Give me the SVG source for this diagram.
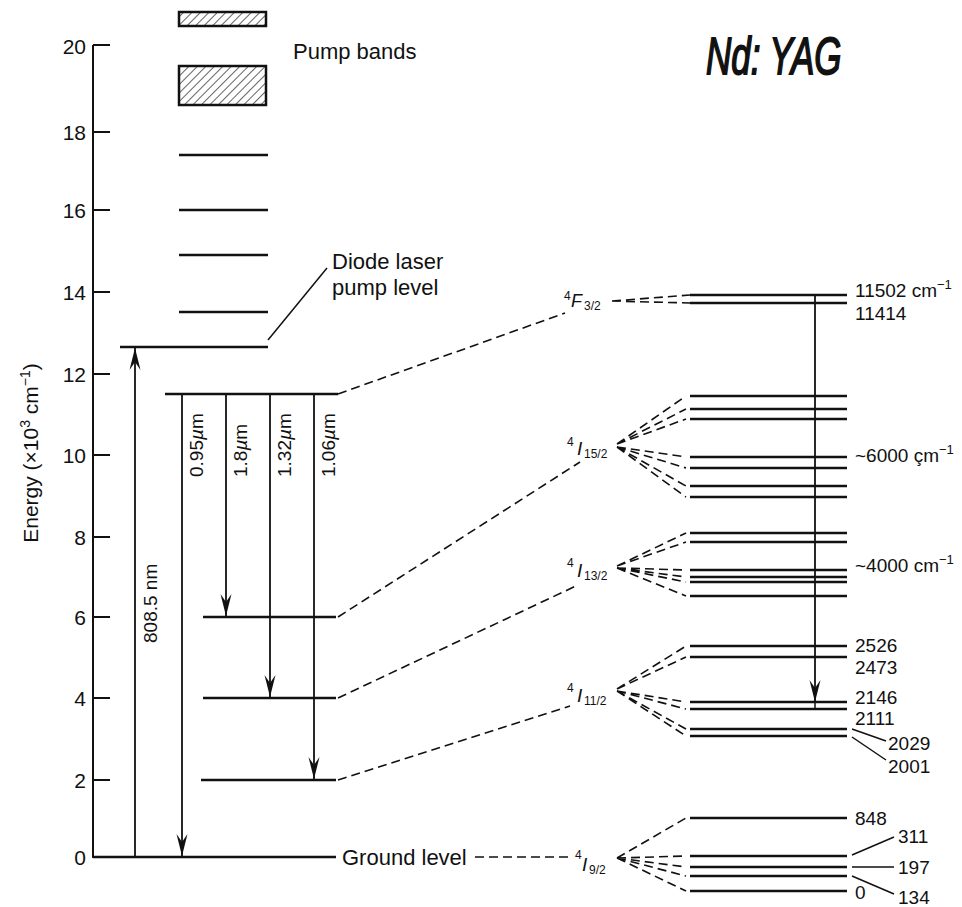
<svg xmlns="http://www.w3.org/2000/svg" width="962" height="907" viewBox="0 0 962 907">
<style>
text{font-family:"Liberation Sans",Arial,sans-serif;fill:#111}
.lvl{stroke:#111;stroke-width:2.4;fill:none}
.ax{stroke:#111;stroke-width:2;fill:none}
.thin{stroke:#111;stroke-width:1.5;fill:none}
.dash{stroke:#111;stroke-width:1.6;stroke-dasharray:9 5;fill:none}
.arr{stroke:#111;stroke-width:1.8;fill:none;marker-end:url(#ah)}
.tk{font-size:21px;text-anchor:end}
.lb{font-size:22px}
.rv{font-size:19px}
.sup{font-size:12px}
.it{font-style:italic}
.tr{font-size:19px}
</style>
<defs>
<marker id="ah" markerUnits="userSpaceOnUse" markerWidth="26" markerHeight="14" refX="0" refY="0" viewBox="-24 -7 26 14" orient="auto">
<path d="M0,0 L-22,-5.5 L-14,0 L-22,5.5 Z" fill="#111"/>
</marker>
<pattern id="hatch" patternUnits="userSpaceOnUse" width="6" height="6" patternTransform="rotate(45)">
<line x1="0" y1="0" x2="0" y2="6" stroke="#111" stroke-width="1.3"/>
</pattern>
</defs>

<g id="axis">
<line class="ax" x1="93" y1="45" x2="93" y2="858"/>
<path class="ax" d="M93,45H110M93,132H110M93,210H110M93,292H110M93,374H110M93,455H110M93,537H110M93,617H110M93,698H110M93,780H110"/>
<text class="tk" x="86" y="54">20</text>
<text class="tk" x="86" y="140">18</text>
<text class="tk" x="86" y="218">16</text>
<text class="tk" x="86" y="300">14</text>
<text class="tk" x="86" y="382">12</text>
<text class="tk" x="86" y="463">10</text>
<text class="tk" x="86" y="545">8</text>
<text class="tk" x="86" y="625">6</text>
<text class="tk" x="86" y="706">4</text>
<text class="tk" x="86" y="788">2</text>
<text class="tk" x="86" y="865">0</text>
<text font-size="21" text-anchor="middle" transform="translate(38,453) rotate(-90)">Energy (×10<tspan font-size="14" dy="-8">3</tspan><tspan dy="8"> cm</tspan><tspan font-size="14" dy="-8">−1</tspan><tspan dy="8">)</tspan></text>
</g>

<g id="title">
<text class="it" font-size="35" stroke="#111" stroke-width="1.2" transform="translate(706,74) scale(1,1.5)">Nd: YAG</text>
</g>

<g id="pump-bands">
<rect x="179" y="12" width="87" height="14" fill="url(#hatch)" stroke="#111" stroke-width="2.5"/>
<rect x="179" y="66" width="87" height="39" fill="url(#hatch)" stroke="#111" stroke-width="2.5"/>
<text class="lb" x="293" y="59">Pump bands</text>
</g>

<g id="upper-levels">
<line class="lvl" x1="179" y1="155" x2="268" y2="155"/>
<line class="lvl" x1="179" y1="210" x2="268" y2="210"/>
<line class="lvl" x1="179" y1="255" x2="268" y2="255"/>
<line class="lvl" x1="179" y1="312" x2="268" y2="312"/>
</g>

<g id="diode-pump-level">
<line class="lvl" x1="120" y1="347" x2="268" y2="347"/>
<line class="thin" x1="268" y1="340" x2="327" y2="268"/>
<text class="lb" x="332" y="269">Diode laser</text>
<text class="lb" x="332" y="295">pump level</text>
</g>

<g id="level-F32">
<line class="lvl" x1="165" y1="394" x2="338" y2="394"/>
</g>
<g id="level-I152"><line class="lvl" x1="203" y1="617" x2="336" y2="617"/></g>
<g id="level-I132"><line class="lvl" x1="203" y1="698" x2="336" y2="698"/></g>
<g id="level-I112"><line class="lvl" x1="201" y1="780" x2="336" y2="780"/></g>
<g id="ground-level">
<line class="lvl" x1="93" y1="857" x2="336" y2="857"/>
<text class="lb" x="342" y="865">Ground level</text>
</g>

<g id="transitions">
<line class="arr" x1="135" y1="857" x2="135" y2="348"/>
<line class="arr" x1="182" y1="394" x2="182" y2="856"/>
<line class="arr" x1="226" y1="394" x2="226" y2="616"/>
<line class="arr" x1="270" y1="394" x2="270" y2="697"/>
<line class="arr" x1="314" y1="394" x2="314" y2="779"/>
<text class="tr" transform="translate(157,643) rotate(-90)">808.5 nm</text>
<text class="tr" transform="translate(203,477) rotate(-90)">0.95<tspan class="it">µ</tspan>m</text>
<text class="tr" transform="translate(247,477) rotate(-90)">1.8<tspan class="it">µ</tspan>m</text>
<text class="tr" transform="translate(291,477) rotate(-90)">1.32<tspan class="it">µ</tspan>m</text>
<text class="tr" transform="translate(335,477) rotate(-90)">1.06<tspan class="it">µ</tspan>m</text>
</g>

<g id="connectors">
<line class="dash" x1="338" y1="394" x2="565" y2="313"/>
<line class="dash" x1="338" y1="617" x2="580" y2="462"/>
<line class="dash" x1="338" y1="698" x2="578" y2="585"/>
<line class="dash" x1="338" y1="780" x2="570" y2="706"/>
<line class="dash" x1="475" y1="857" x2="572" y2="857"/>
<path class="dash" d="M612,301L690,295M612,301L690,303"/>
<path class="dash" d="M617,444L686,396M617,444L686,409M617,444L686,419M617,447L686,457M617,447L686,468M617,447L686,486M617,447L686,497"/>
<path class="dash" d="M617,566L686,533M617,566L686,542M617,568L686,570M617,568L686,577M617,568L686,582M617,568L686,596"/>
<path class="dash" d="M617,689L686,646M617,689L686,657M617,691L686,702M617,691L686,709M617,691L686,729M617,691L686,736"/>
<path class="dash" d="M617,858L686,818M617,858L686,856M617,858L686,867M617,858L686,876M617,858L686,891"/>
<path class="thin" d="M852,729L886,741M852,737L886,760M852,855L894,837M852,867L894,867M852,876L894,894"/>
<line class="arr" x1="815" y1="295" x2="815" y2="702"/>
<line class="thin" x1="815" y1="700" x2="815" y2="709"/>
</g>

<g id="F32">
<text class="sup" x="564" y="300">4</text>
<text class="it" font-size="18" x="571" y="307">F</text>
<text class="sup" x="584" y="310">3/2</text>
<path class="lvl" d="M690,295H847M690,303H847"/>
<text class="rv" x="855" y="297">11502 cm<tspan font-size="13" dy="-8">−1</tspan></text>
<text class="rv" x="855" y="320">11414</text>
</g>

<g id="I152">
<text class="sup" x="567" y="446">4</text>
<text class="it" font-size="19" x="577" y="455">I</text>
<text class="sup" x="584" y="458">15/2</text>
<path class="lvl" d="M690,396H847M690,409H847M690,419H847M690,457H847M690,468H847M690,486H847M690,497H847"/>
<text class="rv" x="855" y="462">~6000 çm<tspan font-size="13" dy="-8">−1</tspan></text>
</g>

<g id="I132">
<text class="sup" x="567" y="567">4</text>
<text class="it" font-size="19" x="577" y="577">I</text>
<text class="sup" x="584" y="580">13/2</text>
<path class="lvl" d="M690,533H847M690,542H847M690,570H847M690,577H847M690,582H847M690,596H847"/>
<text class="rv" x="855" y="572">~4000 cm<tspan font-size="13" dy="-8">−1</tspan></text>
</g>

<g id="I112">
<text class="sup" x="567" y="692">4</text>
<text class="it" font-size="19" x="577" y="702">I</text>
<text class="sup" x="584" y="705">11/2</text>
<path class="lvl" d="M690,646H847M690,657H847M690,702H847M690,709H847M690,729H847M690,736H847"/>
<text class="rv" x="855" y="652">2526</text>
<text class="rv" x="855" y="674">2473</text>
<text class="rv" x="855" y="704">2146</text>
<text class="rv" x="855" y="725">2111</text>
<text class="rv" x="888" y="750">2029</text>
<text class="rv" x="888" y="773">2001</text>
</g>

<g id="I92">
<text class="sup" x="575" y="859">4</text>
<text class="it" font-size="19" x="582" y="871">I</text>
<text class="sup" x="589" y="874">9/2</text>
<path class="lvl" d="M690,818H847M690,856H847M690,867H847M690,876H847M690,891H847"/>
<text class="rv" x="855" y="825">848</text>
<text class="rv" x="898" y="843">311</text>
<text class="rv" x="898" y="874">197</text>
<text class="rv" x="898" y="904">134</text>
<text class="rv" x="855" y="899">0</text>
</g>
</svg>
